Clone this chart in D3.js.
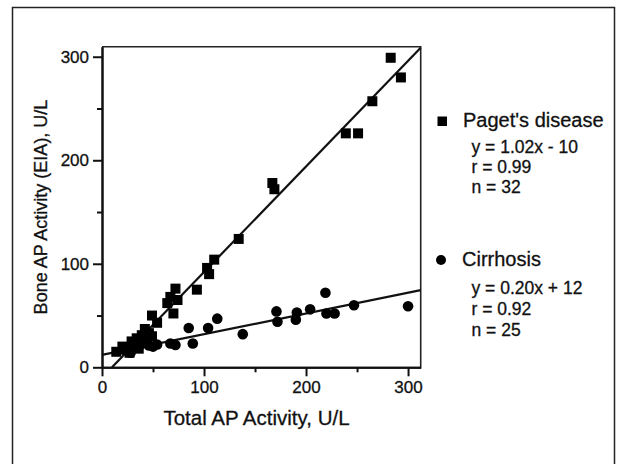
<!DOCTYPE html>
<html><head><meta charset="utf-8">
<script src="https://cdn.jsdelivr.net/npm/d3@7"></script>
<style>body{margin:0;background:#fff}svg{display:block}text{font-family:"Liberation Sans",Arial,sans-serif;fill:#111;stroke:#111;stroke-width:0.3px}</style>
</head><body><svg id="c" width="629" height="464"></svg>
<script>
// Paget's disease (squares)
const pagetX = [283,293,265,239,251,167,169,134,110,103,105,93,72,67,74,64,70,49,54,42,14,20,24,27,29,32,34,36,39,44,46,49];
const pagetY = [299,280,257,226,226,178,172,124,104,96,90,75,76,68,65,62,52,50,43,37,15,20,17,14,25,22,28,18,31,26,33,30];
// Cirrhosis (circles)
const cirrX = [300,247,219,220,228,204,191,190,171,172,138,113,104,85,89,67,72,22,28,32,38,42,46,50,54];
const cirrY = [59,60,72,52,52,56,53,46,54,44,32,47,38,38,23,23,21.5,17,14,19,22,24,21,20,22];
const majorTicks = [0,100,200,300];
const minorTicks = [50,150,250];
const pagetFit = {slope:1.02, intercept:-10};
const cirrFit = {slope:0.20, intercept:12};
const legendPaget = ["Paget's disease","y = 1.02x - 10","r = 0.99","n = 32"];
const legendCirr = ["Cirrhosis","y = 0.20x + 12","r = 0.92","n = 25"];

const svg = d3.select("#c");
const x = d3.scaleLinear([0,312.4],[102,420.7]);
const y = d3.scaleLinear([0,309.7],[367.3,46.7]);

// outer border
svg.append("rect").attr("x",12.5).attr("y",7.5).attr("width",602).attr("height",470)
  .attr("fill","none").attr("stroke","#222").attr("stroke-width",1.5);

// frame top/right
svg.append("path").attr("d",`M${x(0)},${y(309.7)}H${x(312.4)}V${y(0)}`)
  .attr("fill","none").attr("stroke","#222").attr("stroke-width",1.6);

function styleAxis(g){g.selectAll("path,line").attr("stroke","#111").attr("stroke-width",2);
  g.selectAll("text").style("font-size","17px").attr("fill","#111");}
const xa = svg.append("g").attr("transform",`translate(0,${y(0)})`)
  .call(d3.axisBottom(x).tickValues(majorTicks).tickSize(9).tickSizeOuter(0).tickPadding(5).tickFormat(d3.format("d")));
styleAxis(xa);
const xm = svg.append("g").attr("transform",`translate(0,${y(0)})`)
  .call(d3.axisBottom(x).tickValues(minorTicks).tickSize(5).tickSizeOuter(0).tickFormat(""));
styleAxis(xm);
const ya = svg.append("g").attr("transform",`translate(${x(0)},0)`)
  .call(d3.axisLeft(y).tickValues(majorTicks).tickSize(9).tickSizeOuter(0).tickPadding(4).tickFormat(d3.format("d")));
styleAxis(ya);
const ym = svg.append("g").attr("transform",`translate(${x(0)},0)`)
  .call(d3.axisLeft(y).tickValues(minorTicks).tickSize(5).tickSizeOuter(0).tickFormat(""));
styleAxis(ym);

// axis titles
svg.append("text").attr("x",256.5).attr("y",425).attr("text-anchor","middle").style("font-size","20.5px").text("Total AP Activity, U/L");
svg.append("text").attr("transform","translate(47,207) rotate(-90)").attr("text-anchor","middle").style("font-size","18px").text("Bone AP Activity (EIA), U/L");

// regression lines
const pX0 = -pagetFit.intercept/pagetFit.slope;
svg.append("line").attr("x1",x(pX0)).attr("y1",y(0)).attr("x2",x(312.4)).attr("y2",y(pagetFit.slope*312.4+pagetFit.intercept))
  .attr("stroke","#111").attr("stroke-width",2.2);
svg.append("line").attr("x1",x(0)).attr("y1",y(cirrFit.intercept)).attr("x2",x(312.4)).attr("y2",y(cirrFit.slope*312.4+cirrFit.intercept))
  .attr("stroke","#111").attr("stroke-width",2.2);

// points
const S = 10;
svg.append("g").selectAll("rect").data(d3.range(pagetX.length)).join("rect")
  .attr("x",i=>x(pagetX[i])-S/2).attr("y",i=>y(pagetY[i])-S/2).attr("width",S).attr("height",S).attr("fill","#000");
svg.append("g").selectAll("circle").data(d3.range(cirrX.length)).join("circle")
  .attr("cx",i=>x(cirrX[i])).attr("cy",i=>y(cirrY[i])).attr("r",5.3).attr("fill","#000");

// legend
svg.append("rect").attr("x",437.5).attr("y",116.5).attr("width",9.5).attr("height",9.5).attr("fill","#000");
svg.append("text").attr("x",463).attr("y",127).style("font-size","20px").text(legendPaget[0]);
legendPaget.slice(1).forEach((t,i)=>svg.append("text").attr("x",471.5).attr("y",153+i*20.2).style("font-size","17.5px").text(t));
svg.append("circle").attr("cx",441).attr("cy",260).attr("r",5).attr("fill","#000");
svg.append("text").attr("x",462).attr("y",266).style("font-size","20px").text(legendCirr[0]);
legendCirr.slice(1).forEach((t,i)=>svg.append("text").attr("x",471.5).attr("y",294+i*21).style("font-size","17.5px").text(t));
</script></body></html>
